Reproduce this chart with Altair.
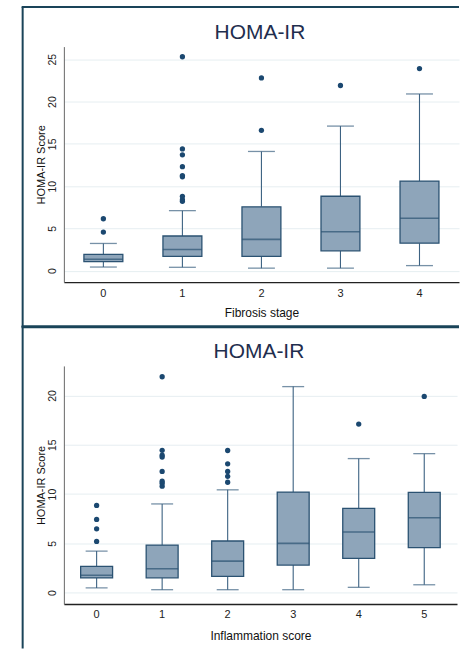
import altair as alt
import pandas as pd

# ---- Fibrosis stage: box summaries of HOMA-IR ----
fib_stage = ["0", "1", "2", "3", "4"]
fib_low = [0.43, 0.4, 0.3, 0.3, 0.6]
fib_q1 = [1.06, 1.7, 1.7, 2.35, 3.25]
fib_med = [1.36, 2.5, 3.7, 4.6, 6.2]
fib_q3 = [1.92, 4.1, 7.55, 8.8, 10.6]
fib_high = [3.22, 7.1, 14.1, 17.1, 20.9]
fib_out_stage = ["0", "0", "1", "1", "1", "1", "1", "1", "1", "1", "1",
                 "2", "2", "3", "4"]
fib_out_val = [4.56, 6.14, 8.2, 8.4, 8.8, 11.1, 11.25, 12.3, 13.7, 14.4, 25.3,
               16.6, 22.8, 21.9, 23.9]

# ---- Inflammation score: box summaries of HOMA-IR ----
inf_score = ["0", "1", "2", "3", "4", "5"]
inf_low = [0.48, 0.3, 0.3, 0.3, 0.54, 0.8]
inf_q1 = [1.49, 1.5, 1.65, 2.8, 3.48, 4.56]
inf_med = [1.76, 2.43, 3.2, 5.0, 6.15, 7.6]
inf_q3 = [2.67, 4.83, 5.24, 10.2, 8.55, 10.17]
inf_high = [4.22, 9.0, 10.43, 20.9, 13.6, 14.1]
inf_out_score = ["0", "0", "0", "0", "1", "1", "1", "1", "1", "1", "1", "1",
                 "2", "2", "2", "2", "2", "4", "5"]
inf_out_val = [5.2, 6.48, 7.43, 8.85, 10.8, 11.1, 11.3, 12.3, 13.75, 13.95, 14.44, 21.9,
               11.2, 11.8, 12.3, 13.07, 14.42, 17.1, 19.9]

FONT = "Liberation Sans"
FRAME = "#1a4459"
BOX_FILL = "#8ea5ba"
BOX_LINE = "#2b5272"
WHISKER = "#3d6282"
DOT = "#1b4870"
TITLE_COLOR = "#1f2e4e"


def panel(cats, low, q1, med, q3, high, out_cat, out_val, xtitle,
          width, height, ydomain, yvalues, box_w, cap_w, bottom_frame, frame_end,
          xtitle_pad):
    stats = pd.DataFrame({"cat": cats, "low": low, "q1": q1, "med": med,
                          "q3": q3, "high": high})
    outs = pd.DataFrame({"cat": out_cat, "val": out_val})
    one = pd.DataFrame({"k": [0]})

    x = alt.X("cat:O", title=xtitle,
              scale=alt.Scale(domain=cats, paddingInner=0, paddingOuter=0),
              axis=alt.Axis(labelAngle=0, ticks=False, domainColor="#222222",
                            domainWidth=1.3, labelFontSize=11, labelPadding=5,
                            labelColor="#222222", titleFontSize=12,
                            titleFontWeight="normal", titleColor="#111111",
                            titlePadding=xtitle_pad, grid=False,
                            labelFont=FONT, titleFont=FONT))
    yscale = alt.Scale(domain=ydomain, nice=False, zero=False)
    yaxis = alt.Axis(values=yvalues, labelAngle=270, labelAlign="center",
                     labelBaseline="bottom", labelPadding=6, ticks=False,
                     domainColor="#666666", domainWidth=1, labelFontSize=10.5,
                     labelColor="#222222", titleFontSize=11,
                     titleFontWeight="normal", titleColor="#111111",
                     titlePadding=1, grid=True, gridColor="#e6eef1", gridWidth=1,
                     labelFont=FONT, titleFont=FONT)

    def y(field):
        return alt.Y(f"{field}:Q", title="HOMA-IR Score", scale=yscale, axis=yaxis)

    base = alt.Chart(stats).encode(x=x)
    whisk_lo = base.mark_rule(color=WHISKER, strokeWidth=1.1).encode(
        y=y("low"), y2="q1:Q")
    whisk_hi = base.mark_rule(color=WHISKER, strokeWidth=1.1).encode(
        y=y("q3"), y2="high:Q")
    cap_lo = base.mark_tick(color=WHISKER, size=cap_w, thickness=1.3).encode(y=y("low"))
    cap_hi = base.mark_tick(color=WHISKER, size=cap_w, thickness=1.3).encode(y=y("high"))
    box = base.mark_bar(size=box_w, fill=BOX_FILL, stroke=BOX_LINE,
                        strokeWidth=1.3).encode(y=y("q1"), y2="q3:Q")
    median = base.mark_tick(color=BOX_LINE, size=box_w, thickness=1.6).encode(y=y("med"))
    dots = alt.Chart(outs).mark_circle(size=28, color=DOT, opacity=1).encode(
        x=x, y=y("val"))

    title = alt.Chart(one).mark_text(
        text="HOMA-IR", font=FONT, fontSize=21, color=TITLE_COLOR,
        align="center", baseline="alphabetic").encode(
        x=alt.value(width / 2 - 1.5), y=alt.value(-7.6))

    # panel frame: left edge, top edge and (for the upper panel) bottom edge
    frame = [
        alt.Chart(one).mark_rule(color=FRAME, strokeWidth=2).encode(
            x=alt.value(-41.3), y=alt.value(-39.7), y2=alt.value(frame_end)),
        alt.Chart(one).mark_rule(color=FRAME, strokeWidth=2).encode(
            x=alt.value(-42.3), x2=alt.value(396), y=alt.value(-39.7)),
    ]
    if bottom_frame:
        frame.append(alt.Chart(one).mark_rule(color=FRAME, strokeWidth=2).encode(
            x=alt.value(-42.3), x2=alt.value(396), y=alt.value(frame_end)))

    return alt.layer(whisk_lo, whisk_hi, cap_lo, cap_hi, box, median, dots,
                     title, *frame).properties(width=width, height=height)


top = panel(fib_stage, fib_low, fib_q1, fib_med, fib_q3, fib_high,
            fib_out_stage, fib_out_val, "Fibrosis stage",
            396, 236, [-1.35, 26.5], [0, 5, 10, 15, 20, 25], 39, 27, True, 281.3, 9)
bottom = panel(inf_score, inf_low, inf_q1, inf_med, inf_q3, inf_high,
               inf_out_score, inf_out_val, "Inflammation score",
               394, 238.6, [-1.15, 23.0], [0, 5, 10, 15, 20], 32, 22, False, 283.3, 11)

chart = alt.vconcat(top, bottom, spacing=84, bounds="flush").properties(
    padding={"left": 20, "top": 5, "right": 0, "bottom": 0},
    background="white",
).configure_view(stroke=None)

chart.save("out.html", embed_options={"renderer": "svg", "actions": False})
